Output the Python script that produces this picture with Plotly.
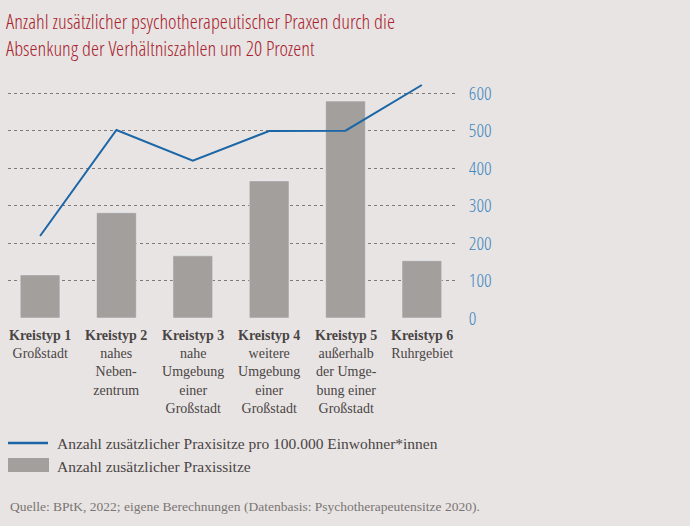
import plotly.graph_objects as go

categories = ["Kreistyp 1", "Kreistyp 2", "Kreistyp 3", "Kreistyp 4", "Kreistyp 5", "Kreistyp 6"]
subtitles = ["Großstadt", "nahes<br>Neben-<br>zentrum", "nahe<br>Umgebung<br>einer<br>Großstadt",
             "weitere<br>Umgebung<br>einer<br>Großstadt", "außerhalb<br>der Umge-<br>bung einer<br>Großstadt",
             "Ruhrgebiet"]
praxissitze = [115, 281, 166, 366, 579, 153]
pro_100k = [219, 502, 420, 499, 500, 622]
y_ticks = [0, 100, 200, 300, 400, 500, 600]

BG = "#e8e4e3"
BAR = "#a39f9c"
LINE = "#1a66a6"
TICK = "#3f88c0"
TEXT = "#4a4545"
SERIF = "Liberation Serif, DejaVu Serif, serif"
SANS = ("Open Sans Condensed Light, Fira Sans Extra Condensed Light, Fira Sans Extra Condensed, "
        "Roboto Condensed, Noto Sans, sans-serif")

x_idx = list(range(len(categories)))

fig = go.Figure()
fig.add_trace(go.Bar(x=x_idx, y=praxissitze, marker_color=BAR, width=0.52,
                     name="Anzahl zusätzlicher Praxissitze", showlegend=False))
fig.add_trace(go.Scatter(x=x_idx, y=pro_100k, mode="lines", line=dict(color=LINE, width=2),
                         cliponaxis=False, name="Anzahl zusätzlicher Praxisitze pro 100.000 Einwohner*innen",
                         showlegend=False))

PH = 236.0  # plot height in px (approx)

fig.update_layout(
    width=690, height=526,
    margin=dict(l=8, r=233, t=82, b=208),
    paper_bgcolor=BG, plot_bgcolor=BG,
    xaxis=dict(range=[-0.42, 5.46], showticklabels=False, showgrid=False, zeroline=False,
               showline=False, fixedrange=True),
    yaxis=dict(range=[0, 630], side="right", tickvals=y_ticks, showgrid=True,
               gridcolor="#7e7a78", griddash="dot", gridwidth=1, zeroline=False, showline=False,
               ticks="outside", ticklen=7, tickcolor="rgba(0,0,0,0)",
               tickfont=dict(family=SANS, size=19, color=TICK, weight=300)),
)

for i, (c, s) in enumerate(zip(categories, subtitles)):
    fig.add_annotation(x=i, y=0, xref="x", yref="paper", yanchor="top", yshift=-8,
                       text=f"<b>{c}</b><br>{s}", showarrow=False, align="center",
                       font=dict(family=SERIF, size=14, color=TEXT))

title_lines = ["Anzahl zusätzlicher psychotherapeutischer Praxen durch die",
               "Absenkung der Verhältniszahlen um 20 Prozent"]
fig.add_annotation(x=0, xref="paper", xanchor="left", xshift=-4, y=1, yref="paper", yanchor="bottom",
                   yshift=18, text="<br>".join(title_lines), showarrow=False, align="left",
                   font=dict(family=SANS, size=20.5, color="#a8232e", weight=300))

# legend (manual)
def py(pix):
    return -(pix - 318) / PH

fig.add_shape(type="line", xref="paper", yref="paper", x0=0, x1=40/449, y0=py(443), y1=py(443),
              line=dict(color=LINE, width=2.5))
fig.add_shape(type="rect", xref="paper", yref="paper", x0=0, x1=41/449, y0=py(458), y1=py(472),
              fillcolor=BAR, line=dict(width=0))
fig.add_annotation(x=47/449, xref="paper", xanchor="left", y=py(443), yref="paper", yanchor="middle",
                   text="Anzahl zusätzlicher Praxisitze pro 100.000 Einwohner*innen", showarrow=False,
                   font=dict(family=SERIF, size=15.5, color=TEXT))
fig.add_annotation(x=47/449, xref="paper", xanchor="left", y=py(467), yref="paper", yanchor="middle",
                   text="Anzahl zusätzlicher Praxissitze", showarrow=False,
                   font=dict(family=SERIF, size=15.5, color=TEXT))
fig.add_annotation(x=0, xref="paper", xanchor="left", y=py(506), yref="paper", yanchor="middle",
                   text="Quelle: BPtK, 2022; eigene Berechnungen (Datenbasis: Psychotherapeutensitze 2020).",
                   showarrow=False, font=dict(family=SERIF, size=13.5, color="#7a7573"))

fig.write_html("out.html")
